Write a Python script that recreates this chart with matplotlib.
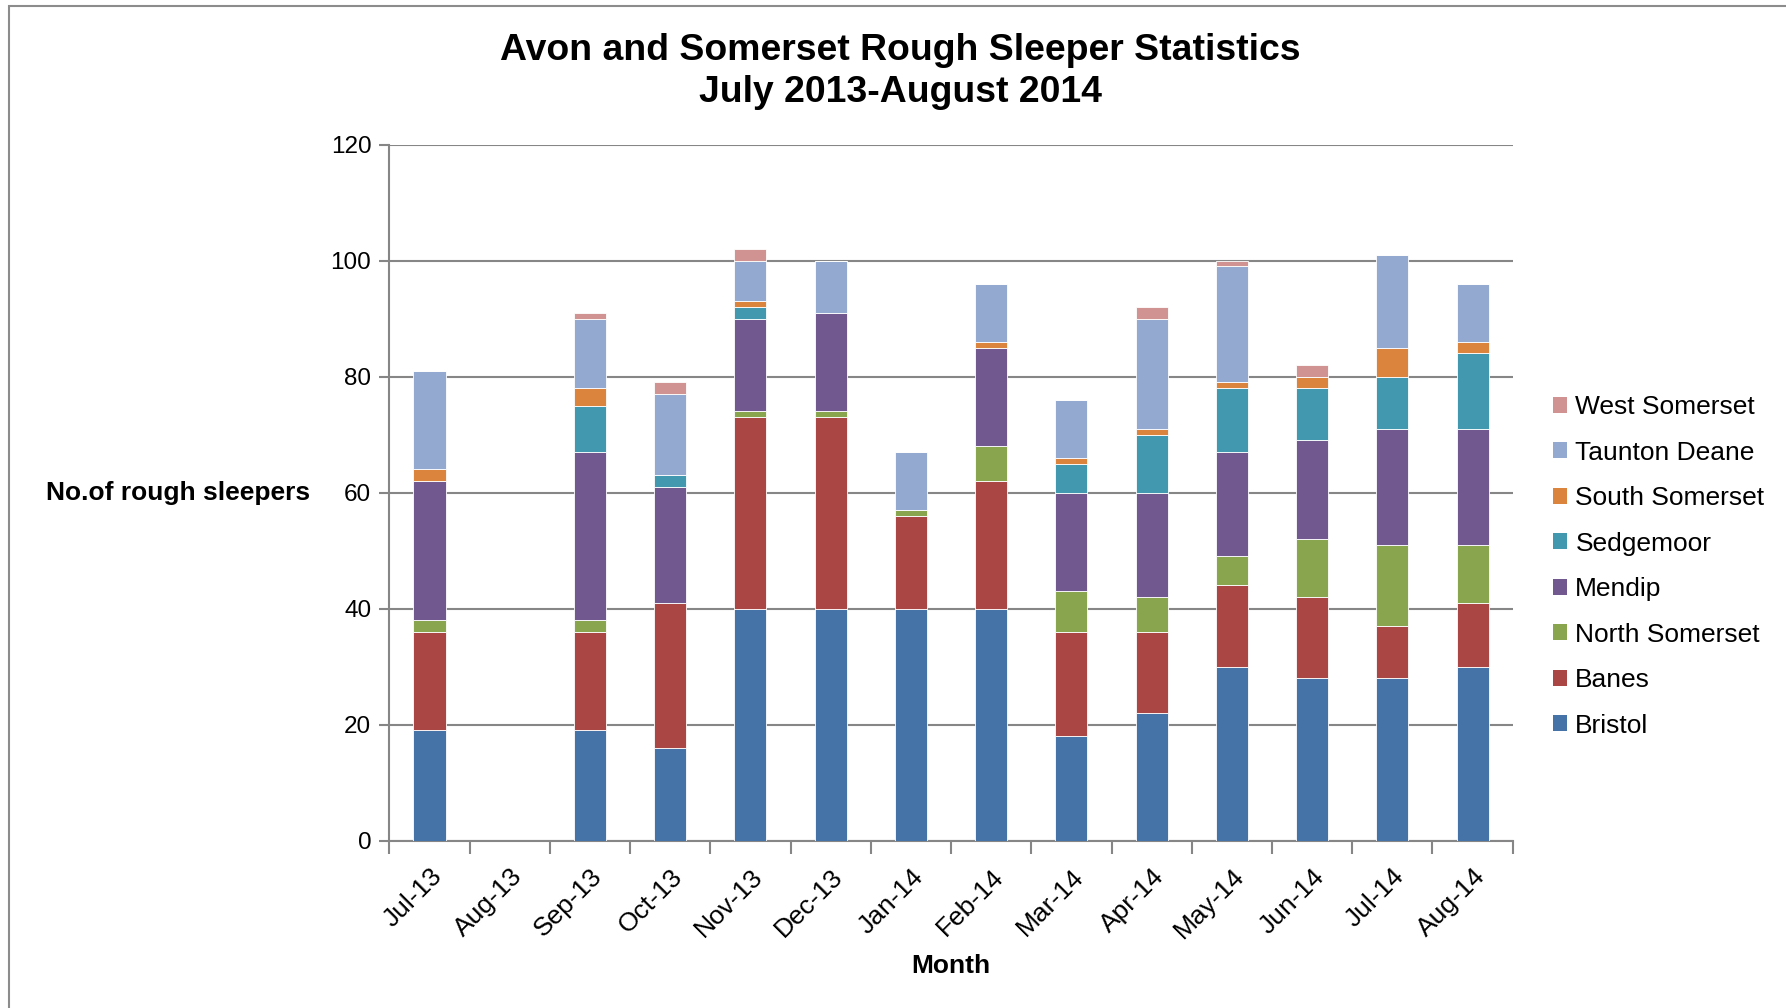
#!/usr/bin/env python3
"""
Stacked bar chart of rough sleeper counts by district, July 2013 - August 2014.
"""

import matplotlib
matplotlib.use("Agg")
import matplotlib.pyplot as plt
from matplotlib.patches import Patch, Rectangle
import numpy as np

plt.rcParams['font.family'] = ['Liberation Sans', 'DejaVu Sans']

months = ['Jul-13', 'Aug-13', 'Sep-13', 'Oct-13', 'Nov-13', 'Dec-13', 'Jan-14',
          'Feb-14', 'Mar-14', 'Apr-14', 'May-14', 'Jun-14', 'Jul-14', 'Aug-14']

# counts per district, stacked bottom to top in this order
bristol = [19, 0, 19, 16, 40, 40, 40, 40, 18, 22, 30, 28, 28, 30]
banes = [17, 0, 17, 25, 33, 33, 16, 22, 18, 14, 14, 14, 9, 11]
north_somerset = [2, 0, 2, 0, 1, 1, 1, 6, 7, 6, 5, 10, 14, 10]
mendip = [24, 0, 29, 20, 16, 17, 0, 17, 17, 18, 18, 17, 20, 20]
sedgemoor = [0, 0, 8, 2, 2, 0, 0, 0, 5, 10, 11, 9, 9, 13]
south_somerset = [2, 0, 3, 0, 1, 0, 0, 1, 1, 1, 1, 2, 5, 2]
taunton_deane = [17, 0, 12, 14, 7, 9, 10, 10, 10, 19, 20, 0, 16, 10]
west_somerset = [0, 0, 1, 2, 2, 0, 0, 0, 0, 2, 1, 2, 0, 0]

series = [
    ('Bristol', bristol, '#4572A7'),
    ('Banes', banes, '#AA4643'),
    ('North Somerset', north_somerset, '#89A54E'),
    ('Mendip', mendip, '#71588F'),
    ('Sedgemoor', sedgemoor, '#4198AF'),
    ('South Somerset', south_somerset, '#DB843D'),
    ('Taunton Deane', taunton_deane, '#93A9CF'),
    ('West Somerset', west_somerset, '#D19392'),
]

fig = plt.figure(figsize=(17.86, 10.08), dpi=100)
ax = fig.add_axes([0.218, 0.166, 0.629, 0.6905])

x = np.arange(len(months))
bottom = np.zeros(len(months))
for name, vals, color in series:
    vals = np.array(vals, dtype=float)
    ax.bar(x, vals, width=0.4, bottom=bottom, color=color,
           edgecolor='white', linewidth=0.6, label=name, zorder=3)
    bottom += vals

grid_col = '#868686'
ax.set_xlim(-0.5, len(months) - 0.5)
ax.set_ylim(0, 120)
ax.set_yticks(np.arange(0, 121, 20))
ax.yaxis.grid(True, color=grid_col, linewidth=1.5, zorder=0)
for side in ['top', 'right']:
    ax.spines[side].set_visible(False)
for side in ['left', 'bottom']:
    ax.spines[side].set_color(grid_col)
    ax.spines[side].set_linewidth(1.5)

# category labels at bar centres, tick marks between categories
ax.set_xticks(x)
ax.set_xticklabels(months, rotation=45, ha='right', va='top',
                   rotation_mode='anchor', fontsize=19)
ax.set_xticks(np.arange(-0.5, len(months), 1.0), minor=True)
ax.tick_params(axis='x', which='major', length=0, pad=17)
ax.tick_params(axis='x', which='minor', length=9, width=1.5, color=grid_col)
ax.tick_params(axis='y', length=7, width=1.5, color=grid_col, labelsize=17.5, pad=6)

fig.text(0.504, 0.929, 'Avon and Somerset Rough Sleeper Statistics\nJuly 2013-August 2014',
         ha='center', va='center', fontsize=26.9, fontweight='bold', linespacing=1.24)
fig.text(0.0255, 0.511, 'No.of rough sleepers', ha='left', va='center',
         fontsize=19, fontweight='bold')
fig.text(0.5325, 0.042, 'Month', ha='center', va='center',
         fontsize=19, fontweight='bold')

handles = [Patch(facecolor=c, edgecolor='none', label=n) for n, _, c in series[::-1]]
fig.legend(handles=handles, loc='center left', bbox_to_anchor=(0.8695, 0.438),
           frameon=False, fontsize=19, handlelength=0.55, handleheight=0.55,
           handletextpad=0.3, labelspacing=0.815, borderpad=0, borderaxespad=0)

# outer chart border
fig.patches.append(Rectangle((0.005, -0.05), 1.2, 1.044, transform=fig.transFigure,
                             fill=False, edgecolor='#8c8c8c', linewidth=1.5))

fig.savefig('out.png', dpi=100)
